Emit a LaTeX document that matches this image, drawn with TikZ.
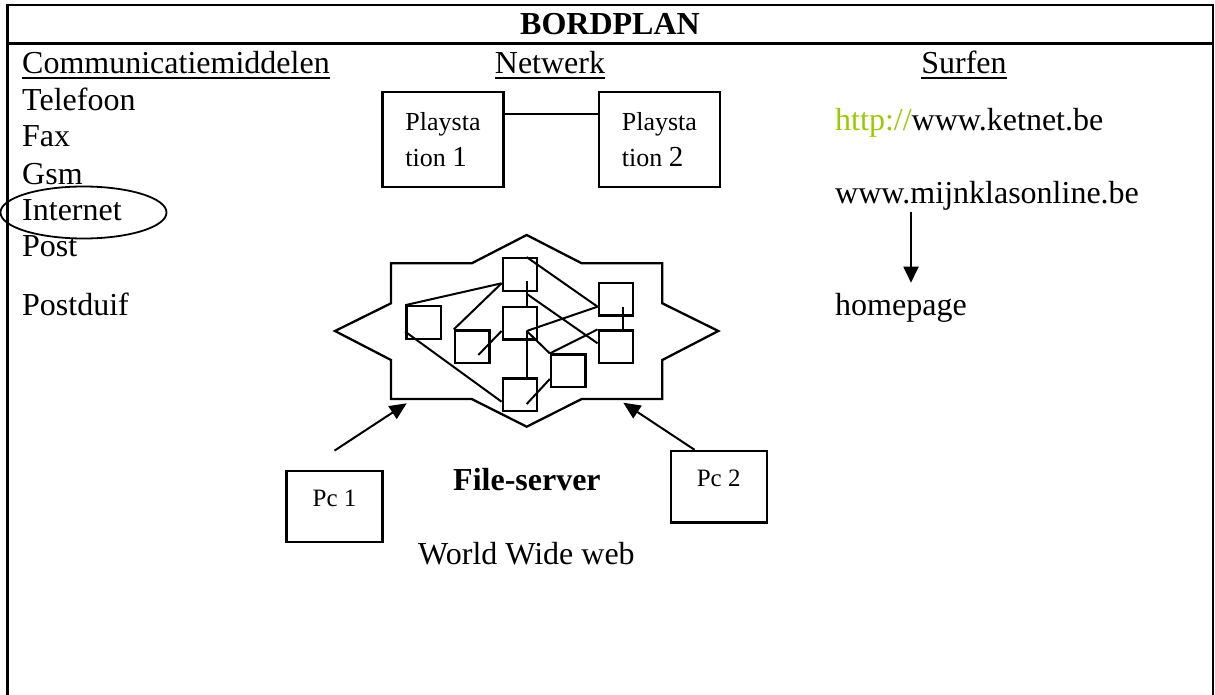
\documentclass[tikz,border=0pt]{standalone}
\usepackage{fontspec}
\setmainfont{Liberation Serif}
\usetikzlibrary{arrows.meta,calc}
\definecolor{httpgreen}{RGB}{153,204,0}
\newcommand\ulx[1]{\setbox0\hbox{#1}\rlap{\rule[-5.8pt]{\wd0}{1.9pt}}\box0}
\begin{document}
\begin{tikzpicture}[x=1pt,y=-1pt,
  txt/.style={inner sep=0pt, anchor=base west, font=\fontsize{32}{36}\selectfont},
  ctxt/.style={txt, anchor=base},
  netbox/.style={draw, line width=2.3pt, minimum width=34.6pt, minimum height=32.4pt, inner sep=0pt},
  wire/.style={line width=2pt},
  psbox/.style={draw, line width=2.3pt, minimum width=120.8pt, minimum height=95.6pt, inner sep=0pt, align=left, font=\fontsize{26}{36.7}\selectfont},
  pcbox/.style={draw, line width=2.3pt, minimum width=96pt, minimum height=71.5pt, inner sep=0pt, text height=16.5pt, text depth=16.5pt, font=\fontsize{25}{30}\selectfont},
  arr/.style={line width=2pt, -{Triangle[length=17pt,width=15pt]}}
]
\useasboundingbox (0,0) rectangle (1215,695);
% frame
\draw[line width=2.6pt] (7.3,700) -- (7.3,5) -- (1213,5) -- (1213,700);
\draw[line width=2.6pt] (7.3,43.3) -- (1213,43.3);
\node[ctxt, font=\bfseries\fontsize{32}{36}\selectfont] (title) at (610,35) {BORDPLAN};
% headers
\node[txt] (hcomm) at (22,73.3) {\ulx{Communicatiemiddelen}};
\node[ctxt] (hnet) at (550,73.3) {\ulx{Netwerk}};
\node[ctxt] (hsurf) at (964,73.3) {\ulx{Surfen}};
% left list
\node[txt] (tel) at (22,110.7) {Telefoon};
\node[txt] (fax) at (22,146.7) {Fax};
\node[txt] (gsm) at (22,184.2) {Gsm};
\node[txt] (inet) at (22,220) {Internet};
\node[txt] (post) at (22,256.7) {Post};
\node[txt] (duif) at (22,315) {Postduif};
\draw[line width=1.8pt] (83.5,212.5) ellipse [x radius=83, y radius=26];
% playstations
\node[psbox] (ps1) at (443,139.5) {Playsta\\tion {\fontsize{29}{36.7}\selectfont 1}};
\node[psbox] (ps2) at (659.4,139.5) {Playsta\\tion {\fontsize{29}{36.7}\selectfont 2}};
\draw[line width=1.8pt] ($(ps1.north east)+(0,23.3)$) -- ($(ps2.north west)+(0,23.3)$);
% star
\draw[line width=2.3pt] (526.7,235) -- (581.7,263.3) -- (662.3,263.3) -- (662.3,303.3) -- (718.3,331) -- (662.3,360) -- (662.3,399) -- (581.7,399) -- (526.7,426.7) -- (471.7,399) -- (391,399) -- (391,360) -- (335,331) -- (391,303.3) -- (391,263.3) -- (471.7,263.3) -- cycle;
% network boxes
\node[netbox] (A) at (520,274.5) {};
\node[netbox] (B) at (520,323.2) {};
\node[netbox] (C) at (423.7,322.5) {};
\node[netbox] (D) at (472.2,346.8) {};
\node[netbox] (E) at (520,394.8) {};
\node[netbox] (F) at (568.3,370.8) {};
\node[netbox] (G) at (616,299.2) {};
\node[netbox] (H) at (616,346.8) {};
\coordinate (pA) at ($(A.west)+(0,8.8)$);
\coordinate (pG) at ($(G.west)+(0,7.5)$);
\coordinate (pB) at ($(B.center)+(6.7,7.8)$);
\draw[wire] (C.north west) -- (pA);
\draw[wire] (D.north west) -- (pA);
\draw[wire] ($(D.center)+(6.1,8.2)$) -- ($(B.west)+(0,7.8)$);
\draw[wire] ($(A.north)+(6.7,24)$) -- ($(B.north)+(6.7,0)$);
\draw[wire] ($(A.north)+(6.7,0)$) -- (pG);
\draw[wire] ($(A.north)+(6.7,36.7)$) -- ($(H.west)+(0,-3.5)$);
\draw[wire] (pB) -- (pG);
\draw[wire] (pB) -- ($(E.north)+(6.7,0)$);
\draw[wire] (pB) -- (F.north west);
\draw[wire] (F.north west) -- (H.north west);
\draw[wire] ($(G.center)+(6.7,7.5)$) -- ($(H.north)+(6.7,0)$);
\draw[wire] ($(C.west)+(0,9.2)$) -- ($(E.west)+(0,6.9)$);
\draw[wire] ($(E.center)+(6.7,9.2)$) -- ($(F.west)+(0,8.2)$);
% pcs
\node[pcbox] (pc1) at (334.5,506.5) {Pc 1};
\node[pcbox] (pc2) at (718.7,486.7) {Pc 2};
\coordinate (tipL) at (406.7,403.3);
\coordinate (tipR) at (623.3,402.7);
\draw[arr] ($(pc1.north)+(0,-19)$) -- (tipL);
\draw[arr] ($(pc2.north west)+(25,0)$) -- (tipR);
\node[txt, font=\bfseries\fontsize{32}{36}\selectfont] (fs) at (453,490) {File-server};
\node[txt] (www) at (418,564.3) {World Wide web};
% surfen
\node[txt] (ketnet) at (835,131) {\textcolor{httpgreen}{http://}www.ketnet.be};
\node[txt] (mijn) at (835,203.3) {www.mijnklasonline.be};
\node[txt] (home) at (835,315) {homepage};
\draw[line width=2pt, -{Triangle[length=16pt,width=15pt]}] ($(mijn.base west)+(76,8.4)$) -- ($(home.base west)+(76,-32.3)$);
\end{tikzpicture}
\end{document}
